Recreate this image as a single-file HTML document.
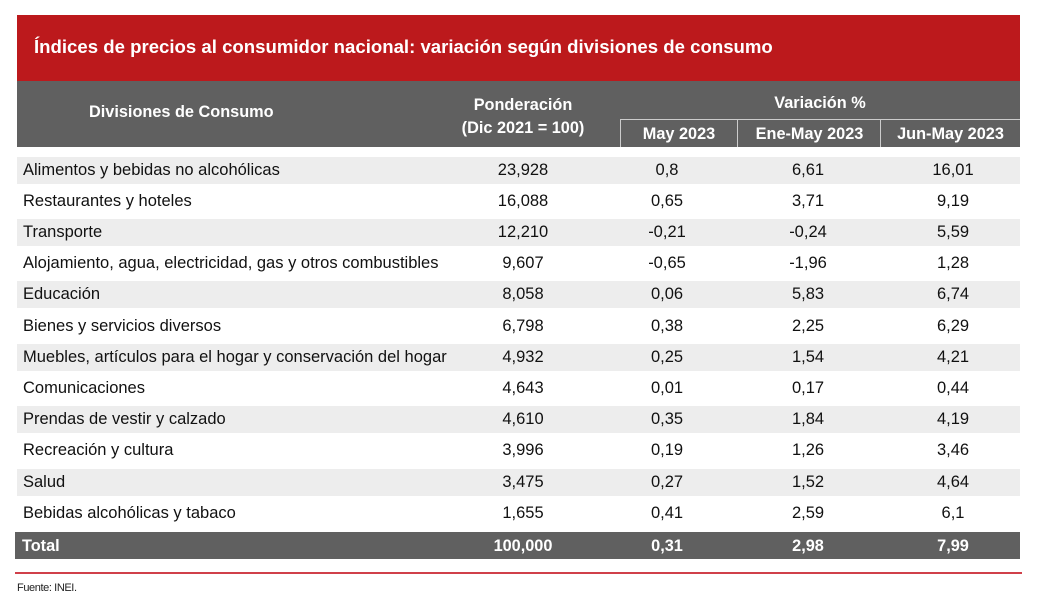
<!DOCTYPE html>
<html><head><meta charset="utf-8"><style>
body{margin:0;width:1043px;height:602px;background:#fff;font-family:"Liberation Sans",Arial,sans-serif;position:relative;overflow:hidden}
div{position:absolute;box-sizing:border-box}
.t{white-space:nowrap;font-size:16.5px;color:#111}
.c{text-align:center}
.h{color:#fff;font-weight:bold;font-size:16.3px;white-space:nowrap}
</style></head><body>
<div style="left:17px;top:15px;width:1003px;height:66px;background:#bc191c"></div>
<div style="left:34px;top:36px;color:#fff;font-size:18.6px;font-weight:bold;white-space:nowrap">Índices de precios al consumidor nacional: variación según divisiones de consumo</div>
<div style="left:17px;top:81px;width:1003px;height:66px;background:#606060"></div>
<div class="h" style="left:89px;top:103px">Divisiones de Consumo</div>
<div class="h c" style="left:433px;top:94px;width:180px;line-height:23px">Ponderación<br>(Dic 2021 = 100)</div>
<div class="h c" style="left:620px;top:94px;width:400px">Variación %</div>
<div style="left:620px;top:119px;width:118px;height:28px;border:1px solid #ccc;border-bottom:none"></div>
<div style="left:738px;top:119px;width:143px;height:28px;border:1px solid #ccc;border-left:none;border-bottom:none"></div>
<div style="left:881px;top:119px;width:139px;height:28px;border-top:1px solid #ccc"></div>
<div class="h c" style="left:620px;top:125px;width:118px">May 2023</div>
<div class="h c" style="left:738px;top:125px;width:143px">Ene-May 2023</div>
<div class="h c" style="left:881px;top:125px;width:139px">Jun-May 2023</div>
<div id="rows"></div>
<div style="left:15px;top:532px;width:1005px;height:27px;background:#606060"></div>
<div class="h" style="left:22px;top:537px">Total</div>
<div class="h c" style="left:463px;top:537px;width:120px">100,000</div>
<div class="h c" style="left:607px;top:537px;width:120px">0,31</div>
<div class="h c" style="left:748px;top:537px;width:120px">2,98</div>
<div class="h c" style="left:893px;top:537px;width:120px">7,99</div>
<div style="left:15px;top:572px;width:1007px;height:2px;background:#d0404a"></div>
<div style="left:17px;top:582px;font-size:11px;color:#222;letter-spacing:-0.4px">Fuente: INEI.</div>
<script>
var d=[["Alimentos y bebidas no alcohólicas","23,928","0,8","6,61","16,01"],
["Restaurantes y hoteles","16,088","0,65","3,71","9,19"],
["Transporte","12,210","-0,21","-0,24","5,59"],
["Alojamiento, agua, electricidad, gas y otros combustibles","9,607","-0,65","-1,96","1,28"],
["Educación","8,058","0,06","5,83","6,74"],
["Bienes y servicios diversos","6,798","0,38","2,25","6,29"],
["Muebles, artículos para el hogar y conservación del hogar","4,932","0,25","1,54","4,21"],
["Comunicaciones","4,643","0,01","0,17","0,44"],
["Prendas de vestir y calzado","4,610","0,35","1,84","4,19"],
["Recreación y cultura","3,996","0,19","1,26","3,46"],
["Salud","3,475","0,27","1,52","4,64"],
["Bebidas alcohólicas y tabaco","1,655","0,41","2,59","6,1"]];
var h="",cx=[523,667,808,953];
d.forEach(function(r,i){var y=169+i*31.2;
if(i%2==0)h+='<div style="left:17px;top:'+(y-12.5)+'px;width:1003px;height:27px;background:#ededed"></div>';
h+='<div class="t" style="left:23px;top:'+(y-8.5)+'px;">'+r[0]+'</div>';
for(var k=1;k<5;k++)h+='<div class="t c" style="left:'+(cx[k-1]-60)+'px;top:'+(y-8.5)+'px;width:120px">'+r[k]+'</div>';});
document.getElementById("rows").outerHTML=h;
</script>
</body></html>
